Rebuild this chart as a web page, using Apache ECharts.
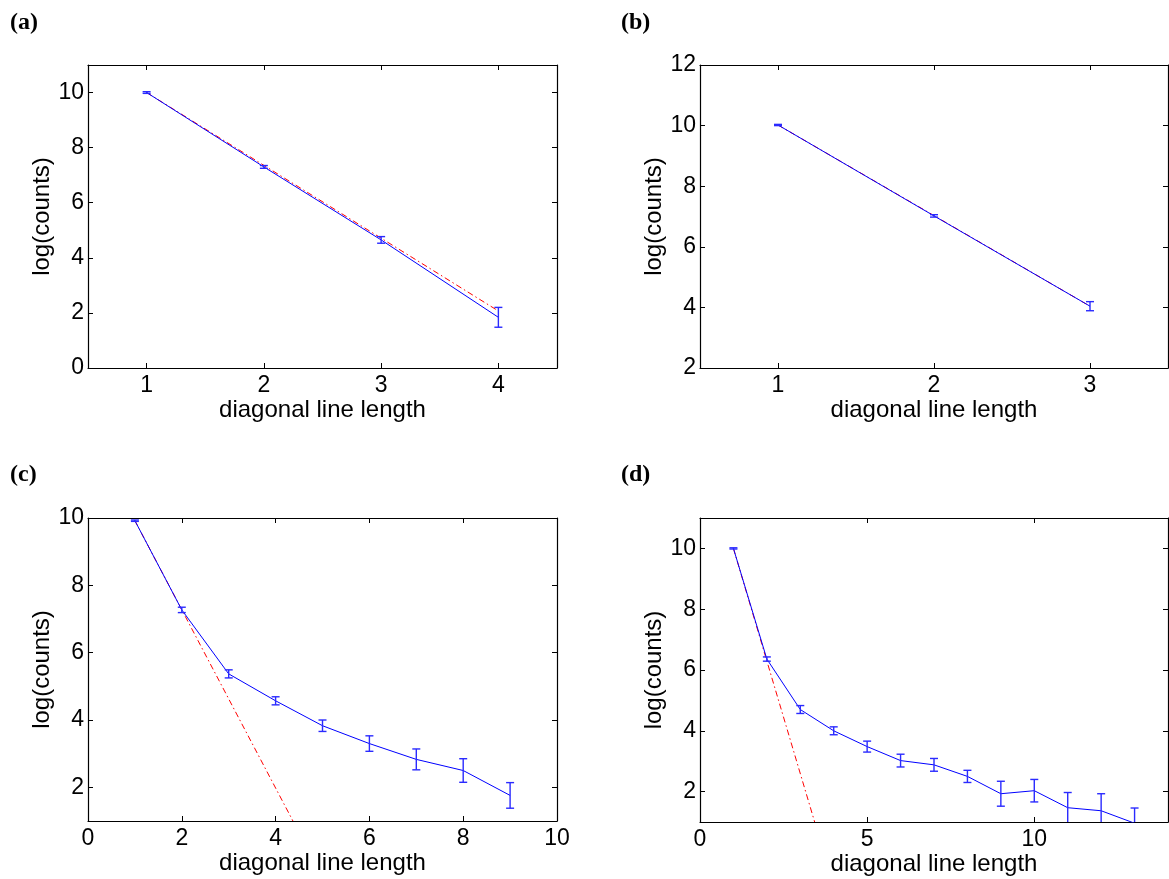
<!DOCTYPE html>
<html>
<head>
<meta charset="utf-8">
<script src="https://cdn.jsdelivr.net/npm/echarts@6/dist/echarts.min.js"></script>
<style>
html,body{margin:0;padding:0;background:#fff;}
#chart{width:1169px;height:879px;}
</style>
</head>
<body>
<div id="chart"></div>
<script>
// ---- Data ----
const panelLabels = ['(a)', '(b)', '(c)', '(d)'];
const xAxisName = 'diagonal line length';
const yAxisName = 'log(counts)';

const aX = [1, 2, 3, 4];
const aY = [10.0, 7.30, 4.65, 1.84];
const aErr = [0.03, 0.05, 0.12, 0.36];
const aFitX = [1, 4];
const aFitY = [10.0, 2.07];
const aXTicks = [1, 2, 3, 4];
const aYTicks = [0, 2, 4, 6, 8, 10];

const bX = [1, 2, 3];
const bY = [10.02, 7.02, 4.04];
const bErr = [0.02, 0.04, 0.15];
const bFitX = [1, 3];
const bFitY = [10.02, 4.04];
const bXTicks = [1, 2, 3];
const bYTicks = [2, 4, 6, 8, 10, 12];

const cX = [1, 2, 3, 4, 5, 6, 7, 8, 9];
const cY = [9.92, 7.27, 5.37, 4.57, 3.83, 3.30, 2.83, 2.50, 1.76];
const cErr = [0.02, 0.08, 0.12, 0.12, 0.17, 0.23, 0.31, 0.35, 0.38];
const cFitX = [1, 4.37];
const cFitY = [9.92, 1.0];
const cXTicks = [0, 2, 4, 6, 8, 10];
const cYTicks = [2, 4, 6, 8, 10];

const dX = [1, 2, 3, 4, 5, 6, 7, 8, 9, 10, 11, 12, 13];
const dY = [10.0, 6.36, 4.70, 4.00, 3.48, 3.02, 2.88, 2.50, 1.93, 2.03, 1.47, 1.37, 0.96];
const dErr = [0.02, 0.07, 0.13, 0.13, 0.18, 0.21, 0.21, 0.20, 0.41, 0.37, 0.50, 0.56, 0.50];
const dFitX = [1, 3.43];
const dFitY = [10.0, 1.0];
const dXTicks = [0, 5, 10];
const dYTicks = [2, 4, 6, 8, 10];

// ---- Layout / style ----
const panels = [
  {x: aX, y: aY, err: aErr, fx: aFitX, fy: aFitY, xt: aXTicks, yt: aYTicks, xr: [0.5, 4.5], yr: [0, 11],
   grid: {left: 88, top: 65, width: 469, height: 303}, label: [10, 11]},
  {x: bX, y: bY, err: bErr, fx: bFitX, fy: bFitY, xt: bXTicks, yt: bYTicks, xr: [0.5, 3.5], yr: [2, 12],
   grid: {left: 700, top: 65, width: 468, height: 303}, label: [621, 11]},
  {x: cX, y: cY, err: cErr, fx: cFitX, fy: cFitY, xt: cXTicks, yt: cYTicks, xr: [0, 10], yr: [1, 10],
   grid: {left: 88, top: 518, width: 469, height: 303}, label: [10, 463]},
  {x: dX, y: dY, err: dErr, fx: dFitX, fy: dFitY, xt: dXTicks, yt: dYTicks, xr: [0, 14], yr: [1, 11],
   grid: {left: 700, top: 518, width: 468, height: 304}, label: [621, 463]}
];

const FONT = 'Liberation Sans, Arial, sans-serif';
const TICK_FS = 23;
const NAME_FS = 24;
const blue = '#0000ff';
const errBlue = '#2a2aff';
const red = '#ff0000';

const grids = [], xAxes = [], yAxes = [], series = [], graphics = [];

function axisCommon(min, max, ticks, showLabel, isX) {
  return {
    type: 'value', min: min, max: max,
    splitLine: {show: false},
    axisLine: {show: true, onZero: false, lineStyle: {color: '#000', width: 1.2}},
    axisTick: {show: true, inside: true, length: 5, customValues: ticks, lineStyle: {color: '#000', width: 1}},
    axisLabel: {show: showLabel, customValues: ticks, color: '#000', fontFamily: FONT, fontSize: TICK_FS,
                margin: isX ? 6 : 4}
  };
}

function errRender(params, api) {
  const x = api.value(0), y = api.value(1), e = api.value(2);
  const top = api.coord([x, y + e]);
  const bot = api.coord([x, y - e]);
  const w = 4;
  const st = {stroke: errBlue, lineWidth: 1.4};
  return {
    type: 'group',
    children: [
      {type: 'line', shape: {x1: top[0], y1: top[1], x2: bot[0], y2: bot[1]}, style: st},
      {type: 'line', shape: {x1: top[0] - w, y1: top[1], x2: top[0] + w, y2: top[1]}, style: st},
      {type: 'line', shape: {x1: bot[0] - w, y1: bot[1], x2: bot[0] + w, y2: bot[1]}, style: st}
    ]
  };
}

panels.forEach((p, i) => {
  grids.push(Object.assign({containLabel: false}, p.grid));
  const xa = axisCommon(p.xr[0], p.xr[1], p.xt, true, true);
  xa.gridIndex = i; xa.position = 'bottom';
  xa.name = xAxisName; xa.nameLocation = 'middle'; xa.nameGap = 28;
  xa.nameTextStyle = {color: '#000', fontFamily: FONT, fontSize: NAME_FS};
  xAxes.push(xa);
  const ya = axisCommon(p.yr[0], p.yr[1], p.yt, true, false);
  ya.gridIndex = i; ya.position = 'left';
  ya.name = yAxisName; ya.nameLocation = 'middle'; ya.nameGap = 33;
  ya.nameTextStyle = {color: '#000', fontFamily: FONT, fontSize: NAME_FS};
  yAxes.push(ya);
  const xb = axisCommon(p.xr[0], p.xr[1], p.xt, false, true);
  xb.gridIndex = i; xb.position = 'top';
  xAxes.push(xb);
  const yb = axisCommon(p.yr[0], p.yr[1], p.yt, false, false);
  yb.gridIndex = i; yb.position = 'right';
  yAxes.push(yb);

  const xi = 2 * i, yi = 2 * i;
  series.push({
    type: 'line', xAxisIndex: xi, yAxisIndex: yi, showSymbol: false, symbol: 'none', clip: true,
    data: p.fx.map((v, k) => [v, p.fy[k]]),
    lineStyle: {color: red, width: 1, type: [6, 3, 1.5, 3]}, z: 2, silent: true
  });
  series.push({
    type: 'line', xAxisIndex: xi, yAxisIndex: yi, showSymbol: false, symbol: 'none', clip: true,
    data: p.x.map((v, k) => [v, p.y[k]]),
    lineStyle: {color: blue, width: 1}, z: 3, silent: true
  });
  series.push({
    type: 'custom', xAxisIndex: xi, yAxisIndex: yi, clip: true, renderItem: errRender,
    data: p.x.map((v, k) => [v, p.y[k], p.err[k]]), z: 4, silent: true
  });
  graphics.push({
    type: 'text', left: p.label[0], top: p.label[1],
    style: {text: panelLabels[i], font: 'bold 24px "Liberation Serif", "Times New Roman", serif', fill: '#000'}
  });
});

const chart = echarts.init(document.getElementById('chart'), null, {renderer: 'canvas'});
chart.setOption({
  animation: false,
  backgroundColor: '#fff',
  grid: grids,
  xAxis: xAxes,
  yAxis: yAxes,
  series: series,
  graphic: graphics
});
</script>
</body>
</html>
